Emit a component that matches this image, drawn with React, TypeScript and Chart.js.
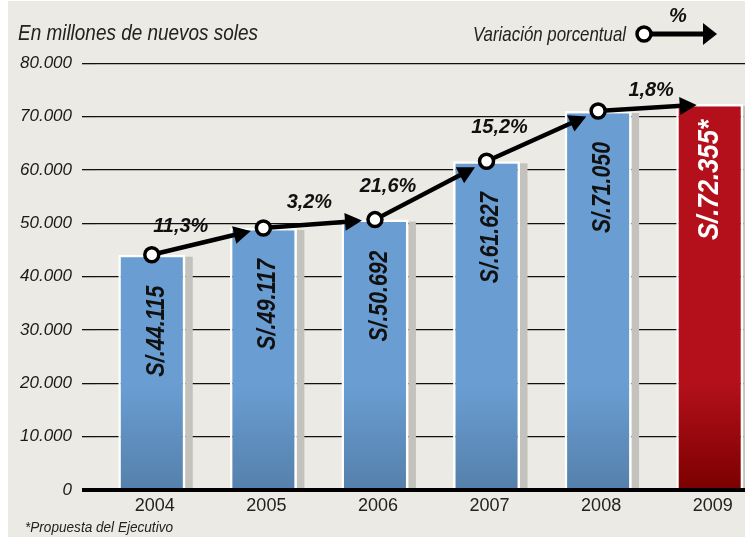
import React, { useEffect, useRef } from 'react';
import { Chart, registerables } from 'chart.js';

Chart.register(...registerables);

// ---- data ----
const YEARS = ['2004', '2005', '2006', '2007', '2008', '2009'];
const BUDGET = [44115, 49117, 50692, 61627, 71050, 72355];
const BAR_LABELS = ['S/.44.115', 'S/.49.117', 'S/.50.692', 'S/.61.627', 'S/.71.050', 'S/.72.355*'];
const VARIATION = ['11,3%', '3,2%', '21,6%', '15,2%', '1,8%'];
const Y_TICK_LABELS = ['0', '10.000', '20.000', '30.000', '40.000', '50.000', '60.000', '70.000', '80.000'];
const PROPOSAL_INDEX = 5;

const TITLE = 'En millones de nuevos soles';
const LEGEND_TEXT = 'Variación porcentual';
const FOOTNOTE = '*Propuesta del Ejecutivo';

// ---- style / layout ----
const W = 776;
const H = 537;
const BG = '#ebeae4';
const FONT = '"Liberation Sans", Arial, Helvetica, sans-serif';
// label nudges (pixels) of each percentage label relative to the segment start point
const PCT_NUDGE = [[29, -30], [46, -28], [13, -35], [13, -36], [53, -23]];

function fitText(ctx: CanvasRenderingContext2D, text: string, x: number, y: number, font: string, color: string, width: number | null, align: CanvasTextAlign = 'left') {
  ctx.save();
  ctx.font = font;
  const w = ctx.measureText(text).width;
  const sx = width ? width / w : 1;
  ctx.translate(x, y);
  ctx.scale(sx, 1);
  ctx.fillStyle = color;
  ctx.textAlign = align;
  ctx.textBaseline = 'alphabetic';
  ctx.fillText(text, 0, 0);
  ctx.restore();
}

function drawArrow(ctx: CanvasRenderingContext2D, x0: number, y0: number, x1: number, y1: number, shaft: number, headLen: number, headHalf: number) {
  const dx = x1 - x0;
  const dy = y1 - y0;
  const len = Math.hypot(dx, dy);
  const ux = dx / len;
  const uy = dy / len;
  const nx = -uy;
  const ny = ux;
  const bx = x1 - ux * headLen;
  const by = y1 - uy * headLen;
  ctx.save();
  ctx.strokeStyle = '#000';
  ctx.fillStyle = '#000';
  ctx.lineWidth = shaft;
  ctx.lineCap = 'butt';
  ctx.beginPath();
  ctx.moveTo(x0, y0);
  ctx.lineTo(bx + ux * 2, by + uy * 2);
  ctx.stroke();
  ctx.beginPath();
  ctx.moveTo(x1, y1);
  ctx.lineTo(bx + nx * headHalf, by + ny * headHalf);
  ctx.lineTo(bx - nx * headHalf, by - ny * headHalf);
  ctx.closePath();
  ctx.fill();
  ctx.restore();
}

const decorPlugin = {
  id: 'decor',
  beforeDraw(chart: any) {
    const ctx = chart.ctx;
    ctx.save();
    ctx.fillStyle = '#ffffff';
    ctx.fillRect(0, 0, W, H);
    ctx.fillStyle = BG;
    ctx.fillRect(8, 1, W - 8, H - 1);
    ctx.restore();
  },
  beforeDatasetsDraw(chart: any) {
    const ctx = chart.ctx;
    const meta = chart.getDatasetMeta(0);
    const base = chart.scales.y.getPixelForValue(0);
    ctx.save();
    ctx.fillStyle = '#c4c2bc';
    meta.data.forEach((el: any) => {
      const p = el.getProps(['x', 'y', 'width'], true);
      ctx.fillRect(p.x + p.width / 2, p.y + 2, 7.5, base - p.y - 2);
    });
    ctx.restore();
  },
  afterDatasetDraw(chart: any, args: any) {
    if (args.index !== 0) return;
    const ctx = chart.ctx;
    const base = chart.scales.y.getPixelForValue(0);
    // zero axis line over bars
    ctx.save();
    ctx.strokeStyle = '#000';
    ctx.lineWidth = 4;
    ctx.beginPath();
    ctx.moveTo(82, base);
    ctx.lineTo(W, base);
    ctx.stroke();
    ctx.restore();
    // vertical value labels in bars
    const meta = chart.getDatasetMeta(0);
    meta.data.forEach((el: any, i: number) => {
      const p = el.getProps(['x', 'y'], true);
      const red = i === PROPOSAL_INDEX;
      const size = red ? 29 : 25;
      const len = red ? 120 : 91;
      const cx = p.x + (red ? -2 : 3);
      const top = p.y + (red ? 16 : 31);
      ctx.save();
      ctx.translate(cx, top);
      ctx.rotate(-Math.PI / 2);
      ctx.font = `italic bold ${size}px ${FONT}`;
      const w = ctx.measureText(BAR_LABELS[i]).width;
      ctx.scale(len / w, 1);
      ctx.fillStyle = red ? '#ffffff' : '#111111';
      ctx.textAlign = 'right';
      ctx.textBaseline = 'alphabetic';
      ctx.fillText(BAR_LABELS[i], 0, size * 0.358);
      ctx.restore();
    });
  },
  beforeDatasetDraw(chart: any, args: any) {
    if (args.index !== 1) return;
    const ctx = chart.ctx;
    const pts = chart.getDatasetMeta(1).data.map((el: any) => el.getProps(['x', 'y'], true));
    for (let i = 0; i < pts.length - 1; i++) {
      const a = pts[i];
      const b = pts[i + 1];
      const d = Math.hypot(b.x - a.x, b.y - a.y);
      const t = (d - 13) / d;
      drawArrow(ctx, a.x, a.y, a.x + (b.x - a.x) * t, a.y + (b.y - a.y) * t, 4.5, 17, 9);
    }
  },
  afterDatasetsDraw(chart: any) {
    const ctx = chart.ctx;
    const pts = chart.getDatasetMeta(1).data.map((el: any) => el.getProps(['x', 'y'], true));
    VARIATION.forEach((txt, i) => {
      const p = pts[i];
      const [nx, ny] = PCT_NUDGE[i];
      ctx.save();
      ctx.font = `italic bold 21px ${FONT}`;
      ctx.translate(p.x + nx, p.y + ny + 21 * 0.358);
      ctx.scale(0.95, 1);
      ctx.fillStyle = '#111';
      ctx.textAlign = 'center';
      ctx.fillText(txt, 0, 0);
      ctx.restore();
    });

    // title
    fitText(ctx, TITLE, 18, 39.5, `italic 22px ${FONT}`, '#222', 240, 'left');
    // legend
    fitText(ctx, LEGEND_TEXT, 626, 41, `italic 21px ${FONT}`, '#222', 153, 'right');
    drawArrow(ctx, 644, 34, 717, 34, 5, 14, 11);
    ctx.save();
    ctx.beginPath();
    ctx.arc(644, 34, 7, 0, Math.PI * 2);
    ctx.fillStyle = '#fff';
    ctx.fill();
    ctx.lineWidth = 3.5;
    ctx.strokeStyle = '#000';
    ctx.stroke();
    ctx.restore();
    fitText(ctx, '%', 678, 22, `italic bold 20px ${FONT}`, '#111', null, 'center');
    // footnote
    fitText(ctx, FOOTNOTE, 25, 531.5, `italic 14px ${FONT}`, '#222', 148, 'left');
  },
};

function barGradient(ctx: any, light: string, dark: string) {
  const chart = ctx.chart;
  const area = chart.chartArea;
  if (!area) return light;
  const ys = chart.scales.y;
  const g = chart.ctx.createLinearGradient(0, area.top, 0, area.bottom);
  const mid = Math.min(0.99, Math.max(0.01, (ys.getPixelForValue(20000) - area.top) / (area.bottom - area.top)));
  g.addColorStop(0, light);
  g.addColorStop(mid, light);
  g.addColorStop(1, dark);
  return g;
}

export default function App() {
  const ref = useRef<HTMLCanvasElement | null>(null);

  useEffect(() => {
    if (!ref.current) return;
    Chart.defaults.font.family = FONT;
    const chart = new Chart(ref.current, {
      type: 'bar',
      data: {
        labels: YEARS,
        datasets: [
          {
            type: 'bar',
            data: BUDGET,
            order: 1,
            backgroundColor: (c: any) =>
              c.dataIndex === PROPOSAL_INDEX ? barGradient(c, '#b3101b', '#7c0000') : barGradient(c, '#6a9ed3', '#5580ab'),
            borderColor: '#ffffff',
            borderWidth: 2.5,
            borderSkipped: 'bottom',
            barPercentage: 0.6,
            categoryPercentage: 1,
          },
          {
            type: 'line',
            data: BUDGET,
            order: 0,
            showLine: false,
            pointRadius: (c: any) => (c.dataIndex === PROPOSAL_INDEX ? 0 : 7),
            pointBorderWidth: 3.5,
            pointBackgroundColor: '#ffffff',
            pointBorderColor: '#000000',
          },
        ],
      } as any,
      options: {
        responsive: false,
        maintainAspectRatio: false,
        animation: false,
        events: [],
        layout: { padding: { top: 63.3, right: 3, bottom: 0, left: 0 } },
        plugins: {
          legend: { display: false },
          tooltip: { enabled: false },
          title: { display: false },
        },
        scales: {
          x: {
            grid: { display: false, drawTicks: false },
            border: { display: false },
            ticks: {
              color: '#222',
              font: { size: 18 },
              padding: 5,
              labelOffset: 3,
            },
            afterFit: (s: any) => {
              s.height = 47;
            },
          },
          y: {
            min: 0,
            max: 80000,
            border: { display: false },
            grid: {
              color: '#111',
              lineWidth: (c: any) => (c.tick && c.tick.value === 0 ? 4 : 1.3),
              tickLength: 14,
              drawTicks: true,
            },
            ticks: {
              stepSize: 10000,
              color: '#1a1a1a',
              font: { size: 17, style: 'italic' },
              padding: 10,
              callback: (v: any) => Y_TICK_LABELS[Math.round(Number(v) / 10000)],
            },
            afterFit: (s: any) => {
              s.width = 96;
            },
          },
        },
      } as any,
      plugins: [decorPlugin],
    });
    return () => chart.destroy();
  }, []);

  return (
    <div style={{ position: 'absolute', left: 0, top: 0, width: 745, height: 537, overflow: 'hidden', background: '#fff' }}>
      <canvas ref={ref} width={W} height={H} style={{ display: 'block', width: W, height: H }} />
    </div>
  );
}
